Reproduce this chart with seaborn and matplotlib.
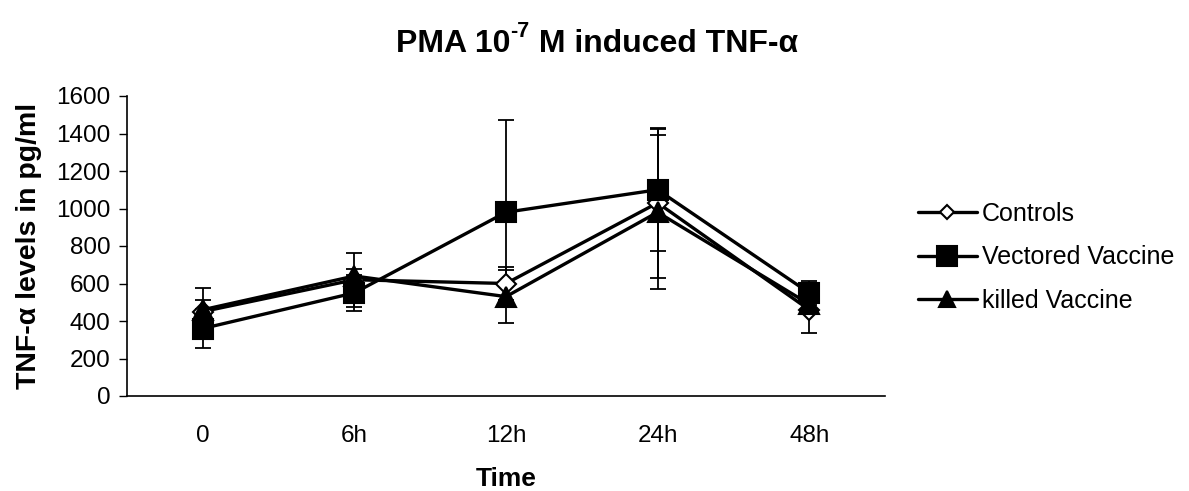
import matplotlib
matplotlib.use("Agg")
import matplotlib.pyplot as plt
import seaborn as sns
import pandas as pd

# ---- data ----
times = ["0", "6h", "12h", "24h", "48h"]
controls = [450, 620, 600, 1030, 460]
controls_err = [126, 145, 88, 400, 124]
vectored = [360, 550, 980, 1100, 550]
vectored_err = [104, 97, 490, 324, 63]
killed = [460, 640, 530, 980, 490]
killed_err = [50, 40, 140, 411, 40]
y_ticks = [0, 200, 400, 600, 800, 1000, 1200, 1400, 1600]

sns.set_theme(style="white")
plt.rcParams["font.family"] = ["Liberation Sans", "DejaVu Sans"]
for k in ["text.color", "axes.labelcolor", "xtick.color", "ytick.color"]:
    plt.rcParams[k] = "black"

W, H = 1189, 491
fig = plt.figure(figsize=(W / 100, H / 100), dpi=100)
ax = fig.add_axes([127 / W, (H - 396) / H, (885 - 127) / W, (396 - 96) / H])

series = [
    ("Controls", controls, controls_err, "D", "white", 10.5),
    ("Vectored Vaccine", vectored, vectored_err, "s", "black", 15),
    ("killed Vaccine", killed, killed_err, "^", "black", 14),
]

for name, vals, errs, mk, fc, ms in series:
    ax.errorbar(times, vals, yerr=errs, fmt="none", ecolor="black",
                elinewidth=1.3, capsize=6, capthick=1.3, zorder=2)

for name, vals, errs, mk, fc, ms in series:
    df = pd.DataFrame({"Time": times, "val": vals})
    sns.lineplot(data=df, x="Time", y="val", ax=ax, color="black",
                 linewidth=2.4, marker=mk, markersize=ms,
                 markerfacecolor=fc, markeredgecolor="black",
                 markeredgewidth=1.5, label=name, sort=False, zorder=3)

ax.set_xlim(-0.5, 4.5)
ax.set_ylim(0, 1600)
ax.set_yticks(y_ticks)
ax.set_yticklabels([str(v) for v in y_ticks], fontsize=17.5)
ax.set_xticks(range(len(times)))
ax.set_xticklabels(times, fontsize=17.5)
ax.set_xticks([i - 0.5 for i in range(len(times) + 1)], minor=True)
ax.tick_params(axis="x", which="major", length=0, pad=21)
ax.tick_params(axis="x", which="minor", length=6, width=1, color="black", direction="out")
ax.tick_params(axis="y", which="major", length=6, width=1, color="black",
               direction="out", pad=6, left=True)

for s in ["top", "right"]:
    ax.spines[s].set_visible(False)
for s in ["left", "bottom"]:
    ax.spines[s].set_color("black")
    ax.spines[s].set_linewidth(1.2)

ax.set_xlabel("Time", fontsize=19, fontweight="bold", labelpad=14)
ax.set_ylabel("TNF-α levels in pg/ml", fontsize=20.5, fontweight="bold", labelpad=10)

# ---- title built from pieces (superscript with a plain hyphen) ----
fig.canvas.draw()
rend = fig.canvas.get_renderer()
title_y = 1 - 44 / H
parts = [("PMA 10", 23, 0.0), ("-7", 15.5, 12 / H), (" M induced TNF-α", 23, 0.0)]
texts = []
widths = []
for s, fs, dy in parts:
    t = fig.text(0, title_y + dy, s, fontsize=fs, fontweight="bold",
                 ha="left", va="center")
    texts.append(t)
    widths.append(t.get_window_extent(rend).width)
x = 597 - sum(widths) / 2
for t, w in zip(texts, widths):
    t.set_x(x / W)
    x += w

leg = ax.legend(loc="upper left", bbox_to_anchor=(918 / W, 1 - 202 / H),
                bbox_transform=fig.transFigure, frameon=False, fontsize=18,
                handlelength=2.36, handletextpad=0.2, labelspacing=0.78,
                borderpad=0, borderaxespad=0)
for h, ms in zip(leg.legend_handles, [7.5, 15, 12]):
    h.set_markersize(ms)

fig.savefig("out.png", dpi=100)
